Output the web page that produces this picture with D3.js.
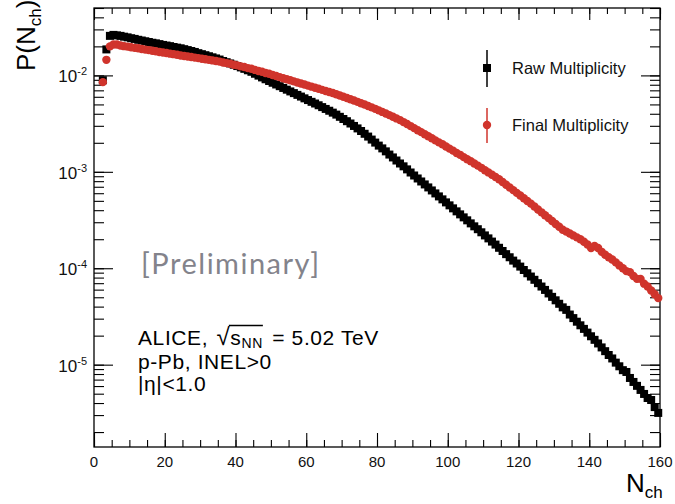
<!DOCTYPE html>
<html>
<head>
<meta charset="utf-8">
<script src="https://cdn.jsdelivr.net/npm/d3@7"></script>
<style>
  body { margin: 0; background: #fff; }
  svg { display: block; font-family: "Liberation Sans", Arial, Helvetica, sans-serif; }
</style>
</head>
<body>
<svg id="chart" width="675" height="504"></svg>
<script>
// first filled bin of both histograms, bins are 1 unit wide
const firstBin = 2;

// P(Nch), raw multiplicity (black squares), bins 2..159
const rawMult = [
  8.91e-3, 1.86e-2, 2.57e-2, 2.63e-2, 2.60e-2, 2.57e-2, 2.52e-2, 2.48e-2, 2.43e-2, 2.39e-2,
  2.34e-2, 2.30e-2, 2.26e-2, 2.22e-2, 2.18e-2, 2.15e-2, 2.11e-2, 2.07e-2, 2.04e-2, 2.01e-2,
  1.97e-2, 1.94e-2, 1.91e-2, 1.87e-2, 1.83e-2, 1.79e-2, 1.75e-2, 1.70e-2, 1.66e-2, 1.62e-2,
  1.58e-2, 1.54e-2, 1.50e-2, 1.46e-2, 1.41e-2, 1.37e-2, 1.33e-2, 1.29e-2, 1.25e-2, 1.21e-2,
  1.17e-2, 1.13e-2, 1.09e-2, 1.04e-2, 9.95e-3, 9.53e-3, 9.12e-3, 8.75e-3, 8.39e-3, 8.05e-3,
  7.73e-3, 7.41e-3, 7.11e-3, 6.82e-3, 6.55e-3, 6.28e-3, 6.03e-3, 5.78e-3, 5.55e-3, 5.32e-3,
  5.11e-3, 4.90e-3, 4.69e-3, 4.49e-3, 4.30e-3, 4.11e-3, 3.92e-3, 3.72e-3, 3.53e-3, 3.35e-3,
  3.17e-3, 2.99e-3, 2.82e-3, 2.65e-3, 2.48e-3, 2.32e-3, 2.16e-3, 2.01e-3, 1.87e-3, 1.75e-3,
  1.63e-3, 1.51e-3, 1.41e-3, 1.31e-3, 1.22e-3, 1.14e-3, 1.06e-3, 9.84e-4, 9.16e-4, 8.53e-4,
  7.94e-4, 7.40e-4, 6.89e-4, 6.41e-4, 5.97e-4, 5.56e-4, 5.18e-4, 4.82e-4, 4.49e-4, 4.18e-4,
  3.89e-4, 3.62e-4, 3.37e-4, 3.14e-4, 2.92e-4, 2.72e-4, 2.54e-4, 2.36e-4, 2.19e-4, 2.04e-4,
  1.89e-4, 1.76e-4, 1.63e-4, 1.51e-4, 1.40e-4, 1.30e-4, 1.20e-4, 1.12e-4, 1.04e-4, 9.59e-5,
  8.87e-5, 8.20e-5, 7.59e-5, 7.00e-5, 6.46e-5, 5.96e-5, 5.48e-5, 5.05e-5, 4.65e-5, 4.28e-5,
  3.93e-5, 3.70e-5, 3.31e-5, 3.04e-5, 2.79e-5, 2.56e-5, 2.35e-5, 2.15e-5, 1.97e-5, 1.81e-5,
  1.66e-5, 1.51e-5, 1.38e-5, 1.26e-5, 1.16e-5, 1.05e-5, 9.62e-6, 8.77e-6, 8.40e-6, 7.28e-6,
  6.62e-6, 6.03e-6, 5.47e-6, 4.97e-6, 4.51e-6, 4.30e-6, 3.63e-6, 3.16e-6
];

// P(Nch), final (unfolded) multiplicity (red circles), bins 2..159
const finalMult = [
  8.51e-3, 1.45e-2, 2.00e-2, 2.09e-2, 2.09e-2, 2.04e-2, 2.01e-2, 1.99e-2, 1.96e-2, 1.93e-2,
  1.91e-2, 1.88e-2, 1.85e-2, 1.83e-2, 1.80e-2, 1.78e-2, 1.75e-2, 1.73e-2, 1.71e-2, 1.68e-2,
  1.66e-2, 1.64e-2, 1.61e-2, 1.59e-2, 1.57e-2, 1.55e-2, 1.53e-2, 1.51e-2, 1.49e-2, 1.47e-2,
  1.45e-2, 1.43e-2, 1.41e-2, 1.39e-2, 1.36e-2, 1.34e-2, 1.32e-2, 1.29e-2, 1.27e-2, 1.24e-2,
  1.22e-2, 1.19e-2, 1.17e-2, 1.14e-2, 1.11e-2, 1.09e-2, 1.06e-2, 1.04e-2, 1.01e-2, 9.84e-3,
  9.59e-3, 9.35e-3, 9.12e-3, 8.89e-3, 8.67e-3, 8.45e-3, 8.24e-3, 8.04e-3, 7.83e-3, 7.64e-3,
  7.45e-3, 7.26e-3, 7.08e-3, 6.90e-3, 6.73e-3, 6.56e-3, 6.38e-3, 6.19e-3, 6.01e-3, 5.83e-3,
  5.66e-3, 5.50e-3, 5.32e-3, 5.15e-3, 4.99e-3, 4.82e-3, 4.66e-3, 4.50e-3, 4.34e-3, 4.18e-3,
  4.03e-3, 3.87e-3, 3.72e-3, 3.58e-3, 3.44e-3, 3.28e-3, 3.13e-3, 2.98e-3, 2.84e-3, 2.70e-3,
  2.58e-3, 2.45e-3, 2.34e-3, 2.23e-3, 2.12e-3, 2.02e-3, 1.93e-3, 1.83e-3, 1.74e-3, 1.66e-3,
  1.57e-3, 1.50e-3, 1.42e-3, 1.35e-3, 1.29e-3, 1.22e-3, 1.16e-3, 1.10e-3, 1.04e-3, 9.86e-4,
  9.33e-4, 8.83e-4, 8.36e-4, 7.83e-4, 7.35e-4, 6.89e-4, 6.46e-4, 6.05e-4, 5.68e-4, 5.32e-4,
  4.99e-4, 4.68e-4, 4.37e-4, 4.07e-4, 3.80e-4, 3.55e-4, 3.31e-4, 3.09e-4, 2.88e-4, 2.69e-4,
  2.51e-4, 2.40e-4, 2.29e-4, 2.19e-4, 2.09e-4, 2.00e-4, 1.88e-4, 1.76e-4, 1.62e-4, 1.70e-4,
  1.62e-4, 1.48e-4, 1.38e-4, 1.30e-4, 1.23e-4, 1.15e-4, 1.07e-4, 1.00e-4, 9.33e-5, 9.12e-5,
  8.32e-5, 7.76e-5, 7.76e-5, 6.92e-5, 6.46e-5, 5.89e-5, 5.37e-5, 4.90e-5
];

const xTicks = [0, 20, 40, 60, 80, 100, 120, 140, 160];
const yExponents = [-5, -4, -3, -2];
const legendLabels = ["Raw Multiplicity", "Final Multiplicity"];
const infoLines = ["p-Pb, INEL>0", "|\u03B7|<1.0"];

const red = "#d0342c";
const svg = d3.select("#chart");

const x = d3.scaleLinear().domain([0, 160]).range([94, 660]);
const y = d3.scaleLog().domain([1.4e-6, 0.05]).range([447, 8]);
const [x0, x1] = x.range(), [y0, y1] = y.range();

// ticks: ROOT style, pointing inwards on all four sides
const xMinor = d3.range(0, 161, 5);
const yMinor = y.ticks();
const yMajor = yExponents.map(e => Math.pow(10, e));

function tickLayer(axis, tr) {
  const g = svg.append("g").attr("transform", tr).call(axis);
  g.select(".domain").remove();
  g.selectAll("line").attr("stroke", "#000").attr("stroke-width", 1.1);
  g.selectAll("text").remove();
}
tickLayer(d3.axisBottom(x).tickValues(xMinor).tickSize(-7), `translate(0,${y0})`);
tickLayer(d3.axisBottom(x).tickValues(xTicks).tickSize(-14), `translate(0,${y0})`);
tickLayer(d3.axisTop(x).tickValues(xMinor).tickSize(-6), `translate(0,${y1})`);
tickLayer(d3.axisTop(x).tickValues(xTicks).tickSize(-12), `translate(0,${y1})`);
tickLayer(d3.axisLeft(y).tickValues(yMinor).tickSize(-10), `translate(${x0},0)`);
tickLayer(d3.axisLeft(y).tickValues(yMajor).tickSize(-19), `translate(${x0},0)`);
tickLayer(d3.axisRight(y).tickValues(yMinor).tickSize(-10), `translate(${x1},0)`);
tickLayer(d3.axisRight(y).tickValues(yMajor).tickSize(-19), `translate(${x1},0)`);

// frame
svg.append("rect").attr("x", x0).attr("y", y1).attr("width", x1 - x0).attr("height", y0 - y1)
  .attr("fill", "none").attr("stroke", "#000").attr("stroke-width", 1.3);

// tick labels
svg.append("g").selectAll("text").data(xTicks).join("text")
  .attr("x", d => x(d)).attr("y", 467)
  .attr("text-anchor", "middle").style("font-size", "15px").attr("fill", "#111")
  .text(d => d);

const yl = svg.append("g").selectAll("text").data(yExponents).join("text")
  .attr("x", 87).attr("y", d => y(Math.pow(10, d)) + 7)
  .attr("text-anchor", "end").attr("fill", "#111");
yl.append("tspan").style("font-size", "17px").text("10");
yl.append("tspan").style("font-size", "11px").attr("dy", -7).text(d => d);

// axis titles
const yt = svg.append("text").attr("transform", "translate(35,71) rotate(-90)").style("font-size", "26px");
yt.append("tspan").text("P(N");
yt.append("tspan").attr("dy", 6).style("font-size", "17px").text("ch");
yt.append("tspan").attr("dy", -6).text(")");

const xt = svg.append("text").attr("x", 626).attr("y", 492).style("font-size", "26px");
xt.append("tspan").text("N");
xt.append("tspan").attr("dy", 6).style("font-size", "17px").text("ch");

// data
const rawPts = rawMult.map((p, i) => ({ n: firstBin + i + 0.5, p }));
const finPts = finalMult.map((p, i) => ({ n: firstBin + i + 0.5, p }));

svg.append("g").selectAll("rect").data(rawPts).join("rect")
  .attr("x", d => x(d.n) - 4).attr("y", d => y(d.p) - 4)
  .attr("width", 8).attr("height", 8).attr("fill", "#000");

svg.append("g").selectAll("circle").data(finPts).join("circle")
  .attr("cx", d => x(d.n)).attr("cy", d => y(d.p)).attr("r", 4.2).attr("fill", red);

// legend
const leg = svg.append("g");
leg.append("line").attr("x1", 487).attr("x2", 487).attr("y1", 50).attr("y2", 87).attr("stroke", "#000").attr("stroke-width", 1.5);
leg.append("rect").attr("x", 483).attr("y", 64).attr("width", 8).attr("height", 8).attr("fill", "#000");
leg.append("line").attr("x1", 487).attr("x2", 487).attr("y1", 108).attr("y2", 143).attr("stroke", red).attr("stroke-width", 1.5);
leg.append("circle").attr("cx", 487).attr("cy", 125).attr("r", 4.2).attr("fill", red);
leg.selectAll("text").data(legendLabels).join("text")
  .attr("x", 512).attr("y", (d, i) => 74 + i * 57)
  .style("font-size", "16.5px").attr("fill", "#111").text(d => d);

// annotations
svg.append("text").attr("x", 141).attr("y", 274)
  .style("font-family", "Lato, 'Open Sans', sans-serif").style("font-size", "29px")
  .style("letter-spacing", "1.5px")
  .attr("fill", "#83838b").text("[Preliminary]");

const alice = svg.append("text").attr("x", 138).attr("y", 345)
  .style("font-size", "21px").style("letter-spacing", "0.6px").attr("fill", "#000");
alice.append("tspan").text("ALICE, ");
alice.append("tspan").attr("dx", 2).style("font-size", "24px").text("\u221A");
alice.append("tspan").text("s");
alice.append("tspan").attr("dy", 3).style("font-size", "14px").text("NN");
alice.append("tspan").attr("dy", -3).attr("dx", 3).text(" = 5.02 TeV");

// overline of the square root over s_NN
const an = alice.node();
const e0 = an.getExtentOfChar(7), e1 = an.getExtentOfChar(10);
svg.append("line")
  .attr("x1", e0.x + e0.width - 1.5).attr("x2", e1.x + e1.width)
  .attr("y1", e0.y + 2.5).attr("y2", e0.y + 2.5)
  .attr("stroke", "#000").attr("stroke-width", 1.3);

svg.append("g").selectAll("text").data(infoLines).join("text")
  .attr("x", 138).attr("y", (d, i) => 369 + i * 22)
  .style("font-size", "21px").style("letter-spacing", "0.6px").attr("fill", "#000").text(d => d);
</script>
</body>
</html>
